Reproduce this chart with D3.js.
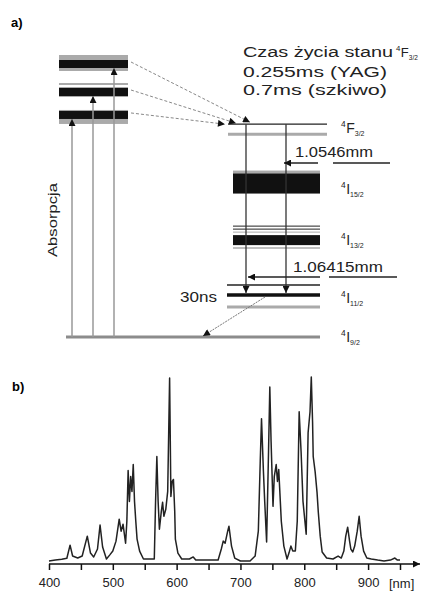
<!DOCTYPE html>
<html>
<head>
<meta charset="utf-8">
<script src="https://cdn.jsdelivr.net/npm/d3@7"></script>
<style>
  body { margin: 0; background: #fff; }
  svg { display: block; font-family: "Liberation Sans", Arial, sans-serif; }
</style>
</head>
<body>
<svg id="wykres" width="423" height="591"></svg>
<script>
// a) schemat poziomów Nd (energia w jednostkach umownych)
const pasmaPompy = [97.5, 87.5, 79.3];
const symbolePoziomow = ["F", "I", "I", "I", "I"];
const indeksyPoziomow = ["3/2", "15/2", "13/2", "11/2", "9/2"];
const energiePoziomow = [76, 54.8, 34.6, 15, 0];
const opisCzasu = ["Czas życia stanu ", "0.255ms (YAG)", "0.7ms (szkiwo)"];
const przejscia = ["1.0546mm", "1.06415mm"];

// b) widmo absorpcji
const dlugoscFali = [
  400, 410, 420, 428, 433, 437, 445, 452, 460, 465, 470, 476, 480, 484, 490, 495,
  500, 505, 510, 513, 516, 520, 522, 524, 526, 528, 530, 532, 534, 536, 538, 542,
  548, 565, 567, 569, 571, 573, 576, 578, 580, 583, 586, 589, 591, 593, 595, 597,
  598, 602, 608, 620, 626, 630, 665, 670, 673, 676, 680, 682, 686, 691, 700, 715,
  723, 728, 731, 733, 736, 738, 741, 744, 746, 748, 751, 753, 756, 758, 760, 764,
  768, 773, 776, 779, 782, 786, 789, 792, 795, 798, 801, 803, 806, 809, 811, 813,
  814, 817, 820, 822, 825, 828, 835, 845, 853, 858, 862, 865, 868, 871, 873, 876,
  879, 883, 886, 889, 893, 898, 905, 915, 925, 935, 942, 946, 950
];
const natezenie = [
  0, 0.5, 1, 1.5, 8.6, 2.7, 1.6, 2.7, 13.5, 4.3, 2.2, 6.5, 19.5, 7.6, 1.1, 3.2,
  5.4, 10.8, 22.7, 16.2, 20, 9.7, 21.6, 49.2, 32.4, 45.9, 37.8, 52.4, 32.4, 21.6, 11.9, 5.4,
  1.1, 1.1, 32.4, 56.8, 32.4, 17.3, 27, 31.9, 24.3, 28.1, 37.8, 99.5, 35.1, 43.2, 44.3, 27,
  11.9, 4.3, 1.1, 1.1, 2.2, 0.5, 0.5, 6.5, 10.8, 9.7, 16.2, 18.9, 8.1, 1.6, 0, 0,
  2.7, 16.2, 54, 77.3, 48.6, 32.4, 10.3, 59.5, 94.6, 64.9, 29.7, 45.9, 52.4, 43.2, 49.7, 21.6,
  8.1, 1.1, 4.3, 8.1, 5.4, 5.4, 21.6, 81.1, 59.5, 32.4, 21.6, 14.6, 69.7, 81.1, 100, 75.7,
  56.8, 48.6, 37.3, 26.5, 13.5, 4.9, 1.6, 1.1, 2.7, 1.6, 5.4, 13.5, 18.4, 10.8, 6.5, 4.9,
  8.1, 16.2, 24.3, 13.5, 5.4, 1.6, 1.1, 0.5, 0, 0.5, 1.6, 0.5, 0.5
];
const ticksNm = [400, 450, 500, 550, 600, 650, 700, 750, 800, 850, 900, 950];
const etykietyNm = [400, 500, 600, 700, 800, 900];

const svg = d3.select("#wykres");
const defs = svg.append("defs");
defs.append("marker")
    .attr("id", "grot")
    .attr("viewBox", "0 0 10 10")
    .attr("refX", 10).attr("refY", 5)
    .attr("markerWidth", 8).attr("markerHeight", 7)
    .attr("markerUnits", "userSpaceOnUse")
    .attr("orient", "auto")
  .append("path")
    .attr("d", "M0,0L10,5L0,10z")
    .attr("fill", "#111");

// ---------- a) ----------
const yE = d3.scaleLinear().domain([0, 100]).range([337, 57]);
const a = svg.append("g");

a.append("text").attr("x", 11).attr("y", 27)
    .attr("font-size", 13).attr("font-weight", "bold").text("a)");

// poziom podstawowy
a.append("line")
    .attr("x1", 66).attr("x2", 320)
    .attr("y1", yE(0)).attr("y2", yE(0))
    .attr("stroke", "#8c8c8c").attr("stroke-width", 3);

// pasma pompowania
pasmaPompy.forEach((e, i) => {
    const y = yE(e);
    if (i === 1) {
        a.append("rect").attr("x", 59).attr("width", 69)
            .attr("y", y - 9).attr("height", 2).attr("fill", "#aaa");
    }
    a.append("rect").attr("x", 59).attr("width", 69)
        .attr("y", i === 0 ? y - 9 : y - 5)
        .attr("height", i === 0 ? 16 : (i === 2 ? 14 : 10))
        .attr("fill", "#aaa");
    a.append("rect").attr("x", 59).attr("width", 69)
        .attr("y", y - 4).attr("height", 8).attr("fill", "#111");
});

// strzałki absorpcji
pasmaPompy.forEach((e, i) => {
    const x = 114 - i * 21;
    a.append("line")
        .attr("x1", x).attr("x2", x)
        .attr("y1", yE(0)).attr("y2", yE(e) + 4)
        .attr("stroke", "#999").attr("stroke-width", 1.5)
        .attr("marker-end", "url(#grot)");
});

// przejścia bezpromieniste (linie kreskowane)
const celeKresek = [250, 236, 225];
pasmaPompy.forEach((e, i) => {
    a.append("line")
        .attr("x1", 131).attr("y1", yE(e) - 2)
        .attr("x2", celeKresek[i]).attr("y2", yE(energiePoziomow[0]) - 2 + i)
        .attr("stroke", "#888").attr("stroke-width", 1)
        .attr("stroke-dasharray", "3,2")
        .attr("marker-end", "url(#grot)");
});

a.append("text")
    .attr("transform", "translate(57,257) rotate(-90)")
    .attr("font-size", 13).attr("fill", "#222")
    .attr("textLength", 74).attr("lengthAdjust", "spacingAndGlyphs")
    .text("Absorpcja");

// poziomy po prawej
const yF = yE(energiePoziomow[0]);
a.append("line").attr("x1", 228).attr("x2", 327).attr("y1", yF).attr("y2", yF)
    .attr("stroke", "#222").attr("stroke-width", 1.3);
a.append("line").attr("x1", 228).attr("x2", 327).attr("y1", yF + 10).attr("y2", yF + 10)
    .attr("stroke", "#aaa").attr("stroke-width", 3);

const y15 = yE(energiePoziomow[1]);
a.append("rect").attr("x", 233).attr("width", 87).attr("y", y15 - 13).attr("height", 4).attr("fill", "#aaa");
a.append("rect").attr("x", 233).attr("width", 87).attr("y", y15 - 10).attr("height", 20).attr("fill", "#111");

const y13 = yE(energiePoziomow[2]);
[-14, -11].forEach(d => {
    a.append("line").attr("x1", 233).attr("x2", 320).attr("y1", y13 + d).attr("y2", y13 + d)
        .attr("stroke", "#222").attr("stroke-width", 1);
});
a.append("line").attr("x1", 233).attr("x2", 320).attr("y1", y13 - 8).attr("y2", y13 - 8)
    .attr("stroke", "#aaa").attr("stroke-width", 1);
a.append("rect").attr("x", 233).attr("width", 87).attr("y", y13 - 5).attr("height", 10).attr("fill", "#111");
a.append("line").attr("x1", 233).attr("x2", 320).attr("y1", y13 + 8).attr("y2", y13 + 8)
    .attr("stroke", "#aaa").attr("stroke-width", 1.5);

const y11 = yE(energiePoziomow[3]);
a.append("line").attr("x1", 227).attr("x2", 320).attr("y1", y11 - 10).attr("y2", y11 - 10)
    .attr("stroke", "#222").attr("stroke-width", 1.3);
a.append("line").attr("x1", 227).attr("x2", 320).attr("y1", y11).attr("y2", y11)
    .attr("stroke", "#111").attr("stroke-width", 3.5);
a.append("line").attr("x1", 227).attr("x2", 320).attr("y1", y11 + 12).attr("y2", y11 + 12)
    .attr("stroke", "#aaa").attr("stroke-width", 3);

// przejścia laserowe 4F3/2 -> 4I11/2
[246, 286].forEach(x => {
    a.append("line").attr("x1", x).attr("x2", x)
        .attr("y1", yF).attr("y2", y11 - 2)
        .attr("stroke", "#333").attr("stroke-width", 1.3)
        .attr("marker-end", "url(#grot)");
});

// opisy długości fal
const opisy = [
    {tekst: przejscia[0], x: 295, y: 157, dl: 78, yl: 163, od: 318, grot: 284, x2a: 333, x2b: 390},
    {tekst: przejscia[1], x: 293, y: 272, dl: 90, yl: 277, od: 320, grot: 248, x2a: 329, x2b: 397}
];
opisy.forEach(o => {
    a.append("text").attr("x", o.x).attr("y", o.y)
        .attr("font-size", 14).attr("fill", "#222")
        .attr("textLength", o.dl).attr("lengthAdjust", "spacingAndGlyphs")
        .text(o.tekst);
    a.append("line").attr("x1", o.od).attr("x2", o.grot).attr("y1", o.yl).attr("y2", o.yl)
        .attr("stroke", "#222").attr("stroke-width", 1.3)
        .attr("marker-end", "url(#grot)");
    a.append("line").attr("x1", o.x2a).attr("x2", o.x2b).attr("y1", o.yl).attr("y2", o.yl)
        .attr("stroke", "#222").attr("stroke-width", 1.5);
});

// relaksacja 4I11/2 -> 4I9/2
a.append("line").attr("x1", 265).attr("y1", y11 + 2).attr("x2", 203).attr("y2", yE(0) - 1)
    .attr("stroke", "#777").attr("stroke-width", 1).attr("stroke-dasharray", "2,1")
    .attr("marker-end", "url(#grot)");
a.append("text").attr("x", 180).attr("y", 302)
    .attr("font-size", 14).attr("fill", "#222")
    .attr("textLength", 37).attr("lengthAdjust", "spacingAndGlyphs")
    .text("30ns");

// etykiety poziomów
function etykieta(g, x, y, litera, indeks, rozmiar) {
    const t = g.append("text").attr("x", x).attr("y", y).attr("fill", "#222");
    t.append("tspan").attr("font-size", rozmiar * 0.6).attr("dy", -6).text("4");
    t.append("tspan").attr("font-size", rozmiar).attr("dy", 6).attr("dx", 0.5).text(litera);
    t.append("tspan").attr("font-size", rozmiar * 0.5).attr("dy", 3).text(indeks);
    return t;
}
const przesuniecia = [9, 10, 5, 8, 5];
energiePoziomow.forEach((e, i) => {
    etykieta(a, 341, yE(e) + przesuniecia[i], symbolePoziomow[i], indeksyPoziomow[i], 14);
});

// czas życia
a.append("text").attr("x", 243).attr("y", 57)
    .attr("font-size", 14).attr("fill", "#222")
    .attr("textLength", 150).attr("lengthAdjust", "spacingAndGlyphs")
    .text(opisCzasu[0]);
etykieta(a, 396, 57, symbolePoziomow[0], indeksyPoziomow[0], 13);
a.append("text").attr("x", 243).attr("y", 77)
    .attr("font-size", 14).attr("fill", "#222")
    .attr("textLength", 144).attr("lengthAdjust", "spacingAndGlyphs")
    .text(opisCzasu[1]);
a.append("text").attr("x", 243).attr("y", 95)
    .attr("font-size", 14).attr("fill", "#222")
    .attr("textLength", 144).attr("lengthAdjust", "spacingAndGlyphs")
    .text(opisCzasu[2]);

// ---------- b) ----------
const x = d3.scaleLinear().domain([400, 950]).range([49, 400]);
const y = d3.scaleLinear().domain([0, 100]).range([561, 377]);
const b = svg.append("g");

b.append("text").attr("x", 12).attr("y", 391)
    .attr("font-size", 13).attr("font-weight", "bold").text("b)");

const os = b.append("g")
    .attr("transform", "translate(0,564)")
    .call(d3.axisBottom(x)
        .tickValues(ticksNm)
        .tickSize(6)
        .tickSizeOuter(0)
        .tickPadding(8)
        .tickFormat(d => etykietyNm.includes(d) ? d : ""));
os.select(".domain").remove();
os.selectAll(".tick line").attr("stroke", "#111").attr("stroke-width", 1.5);
os.selectAll(".tick text").attr("font-size", 13).attr("fill", "#222")
    .attr("font-family", "Liberation Sans, Arial, sans-serif");
os.append("line").attr("x1", x(400)).attr("x2", 420).attr("y1", 0).attr("y2", 0)
    .attr("stroke", "#111").attr("stroke-width", 1.5)
    .attr("marker-end", "url(#grot)");
b.append("text").attr("x", 389).attr("y", 588)
    .attr("font-size", 13).attr("fill", "#222").text("[nm]");

const widmo = d3.line()
    .x((d, i) => x(dlugoscFali[i]))
    .y(d => y(d));
b.append("path")
    .datum(natezenie)
    .attr("d", widmo)
    .attr("fill", "none")
    .attr("stroke", "#222")
    .attr("stroke-width", 1.5)
    .attr("stroke-linejoin", "round");
</script>
</body>
</html>
